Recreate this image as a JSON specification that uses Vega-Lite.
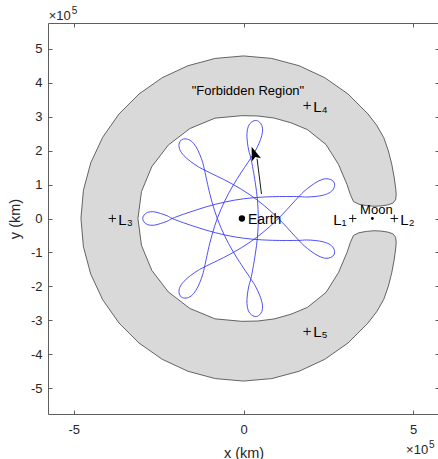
{
  "$schema": "https://vega.github.io/schema/vega-lite/v6.json",
  "width": 391,
  "height": 391,
  "autosize": {"type": "none"},
  "padding": {"left": 48, "top": 23, "right": 0, "bottom": 45},
  "background": "white",
  "config": {
    "view": {"stroke": null},
    "font": "Liberation Sans",
    "axis": {
      "grid": false,
      "domainColor": "#4d4d4d",
      "domainWidth": 0.9,
      "tickColor": "#4d4d4d",
      "tickSize": -4,
      "tickWidth": 0.9,
      "labelColor": "#262626",
      "labelFont": "Liberation Sans",
      "labelFontSize": 13,
      "titleFont": "Liberation Sans",
      "titleFontSize": 14.5,
      "titleFontWeight": "normal",
      "titleColor": "#262626"
    }
  },
  "datasets": {
    "region": [
      {"i":1,"x":4.50,"y":0.70},{"i":2,"x":4.486,"y":0.872},{"i":3,"x":4.443,"y":1.191},{"i":4,"x":4.370,"y":1.590},
      {"i":5,"x":4.269,"y":1.991},{"i":6,"x":4.131,"y":2.385},{"i":7,"x":3.924,"y":2.747},{"i":8,"x":3.669,"y":3.079},
      {"i":9,"x":3.079,"y":3.669},
      {"i":10,"x":2.395,"y":4.148},{"i":11,"x":1.638,"y":4.501},{"i":12,"x":0.832,"y":4.717},{"i":13,"x":0,"y":4.79},
      {"i":14,"x":-0.832,"y":4.717},{"i":15,"x":-1.638,"y":4.501},{"i":16,"x":-2.395,"y":4.148},{"i":17,"x":-3.079,"y":3.669},
      {"i":18,"x":-3.669,"y":3.079},{"i":19,"x":-4.148,"y":2.395},{"i":20,"x":-4.501,"y":1.638},{"i":21,"x":-4.717,"y":0.832},
      {"i":22,"x":-4.79,"y":0},{"i":23,"x":-4.717,"y":-0.832},{"i":24,"x":-4.501,"y":-1.638},{"i":25,"x":-4.148,"y":-2.395},
      {"i":26,"x":-3.669,"y":-3.079},{"i":27,"x":-3.079,"y":-3.669},{"i":28,"x":-2.395,"y":-4.148},{"i":29,"x":-1.638,"y":-4.501},
      {"i":30,"x":-0.832,"y":-4.717},{"i":31,"x":0,"y":-4.79},{"i":32,"x":0.832,"y":-4.717},{"i":33,"x":1.638,"y":-4.501},
      {"i":34,"x":2.395,"y":-4.148},{"i":35,"x":3.079,"y":-3.669},
      {"i":36,"x":3.669,"y":-3.079},{"i":37,"x":3.924,"y":-2.747},{"i":38,"x":4.131,"y":-2.385},{"i":39,"x":4.269,"y":-1.991},
      {"i":40,"x":4.370,"y":-1.590},{"i":41,"x":4.443,"y":-1.191},{"i":42,"x":4.486,"y":-0.872},{"i":43,"x":4.50,"y":-0.70},
      {"i":44,"x":4.48,"y":-0.55},{"i":45,"x":4.40,"y":-0.45},{"i":46,"x":4.25,"y":-0.40},
      {"i":47,"x":4.05,"y":-0.37},{"i":48,"x":3.85,"y":-0.36},{"i":49,"x":3.62,"y":-0.38},{"i":50,"x":3.40,"y":-0.42},
      {"i":51,"x":3.24,"y":-0.50},{"i":52,"x":3.15,"y":-0.70},{"i":53,"x":3.05,"y":-1.00},{"i":54,"x":2.80,"y":-1.59},
      {"i":55,"x":2.43,"y":-2.18},{"i":56,"x":1.88,"y":-2.62},{"i":57,"x":1.40,"y":-2.82},{"i":58,"x":0.90,"y":-2.96},
      {"i":59,"x":0.42,"y":-3.02},{"i":60,"x":-0.05,"y":-3.03},{"i":61,"x":-0.842,"y":-2.956},{"i":62,"x":-1.580,"y":-2.650},
      {"i":63,"x":-2.214,"y":-2.164},{"i":64,"x":-2.700,"y":-1.530},{"i":65,"x":-3.006,"y":-0.792},{"i":66,"x":-3.11,"y":0},
      {"i":67,"x":-3.006,"y":0.792},{"i":68,"x":-2.700,"y":1.530},{"i":69,"x":-2.214,"y":2.164},{"i":70,"x":-1.580,"y":2.650},
      {"i":71,"x":-0.842,"y":2.956},{"i":72,"x":-0.05,"y":3.03},{"i":73,"x":0.42,"y":3.02},{"i":74,"x":0.90,"y":2.96},
      {"i":75,"x":1.40,"y":2.82},{"i":76,"x":1.88,"y":2.62},{"i":77,"x":2.43,"y":2.18},{"i":78,"x":2.80,"y":1.59},
      {"i":79,"x":3.05,"y":1.00},{"i":80,"x":3.15,"y":0.70},{"i":81,"x":3.24,"y":0.50},{"i":82,"x":3.40,"y":0.42},
      {"i":83,"x":3.62,"y":0.38},{"i":84,"x":3.85,"y":0.36},{"i":85,"x":4.05,"y":0.37},{"i":86,"x":4.25,"y":0.40},
      {"i":87,"x":4.40,"y":0.45},{"i":88,"x":4.48,"y":0.55},{"i":89,"x":4.50,"y":0.70}
    ],
    "traj": [
      {"i":0,"x":0.216,"y":-1.780},{"i":1,"x":0.335,"y":-1.965},{"i":2,"x":0.451,"y":-2.200},{"i":3,"x":0.537,"y":-2.440},
      {"i":4,"x":0.560,"y":-2.659},{"i":5,"x":0.501,"y":-2.809},{"i":6,"x":0.382,"y":-2.888},{"i":7,"x":0.244,"y":-2.848},
      {"i":8,"x":0.144,"y":-2.721},{"i":9,"x":0.102,"y":-2.505},{"i":10,"x":0.114,"y":-2.250},{"i":11,"x":0.157,"y":-1.991},
      {"i":12,"x":0.216,"y":-1.780},
      {"i":13,"x":0.345,"y":-1.068},{"i":14,"x":0.412,"y":-0.534},{"i":15,"x":0.436,"y":0},{"i":16,"x":0.412,"y":0.534},{"i":17,"x":0.345,"y":1.068},
      {"i":18,"x":0.216,"y":1.780},{"i":19,"x":0.157,"y":1.991},{"i":20,"x":0.114,"y":2.250},{"i":21,"x":0.102,"y":2.505},
      {"i":22,"x":0.144,"y":2.721},{"i":23,"x":0.244,"y":2.848},{"i":24,"x":0.382,"y":2.888},{"i":25,"x":0.501,"y":2.809},
      {"i":26,"x":0.560,"y":2.659},{"i":27,"x":0.537,"y":2.440},{"i":28,"x":0.451,"y":2.200},{"i":29,"x":0.335,"y":1.965},
      {"i":30,"x":0.216,"y":1.780},
      {"i":31,"x":-0.176,"y":1.189},{"i":32,"x":-0.442,"y":0.734},{"i":33,"x":-0.668,"y":0.263},{"i":34,"x":-0.851,"y":-0.228},{"i":35,"x":-0.994,"y":-0.734},
      {"i":36,"x":-1.148,"y":-1.426},{"i":37,"x":-1.199,"y":-1.640},{"i":38,"x":-1.288,"y":-1.886},{"i":39,"x":-1.401,"y":-2.115},
      {"i":40,"x":-1.543,"y":-2.283},{"i":41,"x":-1.692,"y":-2.345},{"i":42,"x":-1.832,"y":-2.314},{"i":43,"x":-1.898,"y":-2.187},
      {"i":44,"x":-1.876,"y":-2.027},{"i":45,"x":-1.750,"y":-1.847},{"i":46,"x":-1.557,"y":-1.679},{"i":47,"x":-1.342,"y":-1.530},
      {"i":48,"x":-1.148,"y":-1.426},
      {"i":49,"x":-0.516,"y":-1.115},{"i":50,"x":-0.059,"y":-0.859},{"i":51,"x":0.373,"y":-0.567},{"i":52,"x":0.775,"y":-0.237},{"i":53,"x":1.152,"y":0.127},
      {"i":54,"x":1.630,"y":0.645},{"i":55,"x":1.785,"y":0.801},{"i":56,"x":1.990,"y":0.965},{"i":57,"x":2.205,"y":1.101},
      {"i":58,"x":2.414,"y":1.171},{"i":59,"x":2.574,"y":1.146},{"i":60,"x":2.676,"y":1.047},{"i":61,"x":2.667,"y":0.904},
      {"i":62,"x":2.565,"y":0.779},{"i":63,"x":2.363,"y":0.691},{"i":64,"x":2.112,"y":0.648},{"i":65,"x":1.850,"y":0.633},
      {"i":66,"x":1.630,"y":0.645},
      {"i":67,"x":0.861,"y":0.643},{"i":68,"x":0.289,"y":0.612},{"i":69,"x":-0.275,"y":0.539},{"i":70,"x":-0.830,"y":0.418},{"i":71,"x":-1.378,"y":0.256},
      {"i":72,"x":-2.10,"y":0},{"i":73,"x":-2.25,"y":-0.08},{"i":74,"x":-2.45,"y":-0.15},{"i":75,"x":-2.65,"y":-0.20},
      {"i":76,"x":-2.83,"y":-0.18},{"i":77,"x":-2.93,"y":-0.10},{"i":78,"x":-2.97,"y":0},{"i":79,"x":-2.93,"y":0.10},
      {"i":80,"x":-2.83,"y":0.18},{"i":81,"x":-2.65,"y":0.20},{"i":82,"x":-2.45,"y":0.15},{"i":83,"x":-2.25,"y":0.08},
      {"i":84,"x":-2.10,"y":0},
      {"i":85,"x":-1.378,"y":-0.256},{"i":86,"x":-0.830,"y":-0.418},{"i":87,"x":-0.275,"y":-0.539},{"i":88,"x":0.289,"y":-0.612},{"i":89,"x":0.861,"y":-0.643},
      {"i":90,"x":1.630,"y":-0.645},{"i":91,"x":1.850,"y":-0.633},{"i":92,"x":2.112,"y":-0.648},{"i":93,"x":2.363,"y":-0.691},
      {"i":94,"x":2.565,"y":-0.779},{"i":95,"x":2.667,"y":-0.904},{"i":96,"x":2.676,"y":-1.047},{"i":97,"x":2.574,"y":-1.146},
      {"i":98,"x":2.414,"y":-1.171},{"i":99,"x":2.205,"y":-1.101},{"i":100,"x":1.990,"y":-0.965},{"i":101,"x":1.785,"y":-0.801},
      {"i":102,"x":1.630,"y":-0.645},
      {"i":103,"x":1.152,"y":-0.127},{"i":104,"x":0.775,"y":0.237},{"i":105,"x":0.373,"y":0.567},{"i":106,"x":-0.059,"y":0.859},{"i":107,"x":-0.516,"y":1.115},
      {"i":108,"x":-1.148,"y":1.426},{"i":109,"x":-1.342,"y":1.530},{"i":110,"x":-1.557,"y":1.679},{"i":111,"x":-1.750,"y":1.847},
      {"i":112,"x":-1.876,"y":2.027},{"i":113,"x":-1.898,"y":2.187},{"i":114,"x":-1.832,"y":2.314},{"i":115,"x":-1.692,"y":2.345},
      {"i":116,"x":-1.543,"y":2.283},{"i":117,"x":-1.401,"y":2.115},{"i":118,"x":-1.288,"y":1.886},{"i":119,"x":-1.199,"y":1.640},
      {"i":120,"x":-1.148,"y":1.426},
      {"i":121,"x":-0.994,"y":0.734},{"i":122,"x":-0.851,"y":0.228},{"i":123,"x":-0.668,"y":-0.263},{"i":124,"x":-0.442,"y":-0.734},{"i":125,"x":-0.176,"y":-1.189},
      {"i":126,"x":0.216,"y":-1.780}
    ],
    "lpoints": [
      {"x":3.217,"y":0,"label":"L₁"},
      {"x":4.443,"y":0,"label":"L₂"},
      {"x":-3.864,"y":0,"label":"L₃"},
      {"x":1.875,"y":3.329,"label":"L₄"},
      {"x":1.875,"y":-3.329,"label":"L₅"}
    ],
    "exps": [
      {"x":-5.74,"y":5.85},
      {"x":4.79,"y":-6.95}
    ]
  },
  "resolve": {"axis": {"x": "independent", "y": "independent"}},
  "layer": [
    {
      "encoding": {
        "x": {"field": "x", "type": "quantitative",
              "scale": {"domain": [-5.76, 5.76], "nice": false, "zero": false},
              "axis": {"values": [-5, 0, 5], "title": "x (km)", "labelPadding": 13, "titlePadding": 10, "labelExpr": "'' + datum.value"}},
        "y": {"field": "y", "type": "quantitative",
              "scale": {"domain": [-5.76, 5.76], "nice": false, "zero": false},
              "axis": {"values": [-5, -4, -3, -2, -1, 0, 1, 2, 3, 4, 5], "title": "y (km)", "labelPadding": 10, "titlePadding": 8, "labelExpr": "'' + datum.value"}}
      },
      "layer": [
        {"data": {"name": "region"},
         "mark": {"type": "line", "fill": "#d9d9d9", "stroke": "#404040", "strokeWidth": 0.8},
         "encoding": {"order": {"field": "i", "type": "quantitative"}}},
        {"data": {"name": "traj"},
         "mark": {"type": "line", "stroke": "#3030f5", "strokeWidth": 0.85, "interpolate": "catmull-rom"},
         "encoding": {"order": {"field": "i", "type": "quantitative"}}},
        {"data": {"values": [{"x": 0.53, "y": 0.72, "x2": 0.40, "y2": 1.76}]},
         "mark": {"type": "rule", "color": "#1a1a1a", "strokeWidth": 1},
         "encoding": {"x2": {"field": "x2"}, "y2": {"field": "y2"}}},
        {"data": {"values": [{"x": 0.31, "y": 1.92}]},
         "mark": {"type": "point", "shape": "M0,-1L0.7,1L0,0.55L-0.7,1Z", "filled": true, "color": "#000000", "opacity": 1, "size": 196, "angle": 340}},
        {"data": {"name": "lpoints"},
         "mark": {"type": "point", "shape": "M-1,0L1,0M0,-1L0,1", "filled": false, "stroke": "#000000", "strokeWidth": 0.9, "opacity": 1, "size": 56}},
        {"data": {"values": [{"x": -0.047, "y": 0}]},
         "mark": {"type": "point", "shape": "circle", "filled": true, "color": "#000000", "opacity": 1, "size": 40}},
        {"data": {"values": [{"x": 3.797, "y": 0}]},
         "mark": {"type": "point", "shape": "circle", "filled": true, "color": "#000000", "opacity": 1, "size": 8}},
        {"data": {"name": "lpoints"},
         "transform": [{"filter": "datum.label != 'L₁'"}],
         "mark": {"type": "text", "align": "left", "baseline": "middle", "dx": 6, "dy": 1, "fontSize": 15, "font": "Liberation Sans", "color": "#000000"},
         "encoding": {"text": {"field": "label"}}},
        {"data": {"name": "lpoints"},
         "transform": [{"filter": "datum.label == 'L₁'"}],
         "mark": {"type": "text", "align": "right", "baseline": "middle", "dx": -6, "dy": 1, "fontSize": 15, "font": "Liberation Sans", "color": "#000000"},
         "encoding": {"text": {"field": "label"}}},
        {"data": {"values": [{"x": 3.797, "y": 0, "label": "Moon"}]},
         "mark": {"type": "text", "align": "center", "baseline": "alphabetic", "dx": 4, "dy": -5, "fontSize": 13, "font": "Liberation Sans", "color": "#000000"},
         "encoding": {"text": {"field": "label"}}},
        {"data": {"values": [{"x": -0.047, "y": 0, "label": "Earth"}]},
         "mark": {"type": "text", "align": "left", "baseline": "middle", "dx": 6, "dy": 1, "fontSize": 14, "font": "Liberation Sans", "color": "#000000"},
         "encoding": {"text": {"field": "label"}}},
        {"data": {"values": [{"x": 0.13, "y": 3.75, "label": "\"Forbidden Region\""}]},
         "mark": {"type": "text", "align": "center", "baseline": "middle", "fontSize": 13, "font": "Liberation Sans", "color": "#000000"},
         "encoding": {"text": {"field": "label"}}},
        {"data": {"name": "exps"},
         "mark": {"type": "text", "align": "left", "baseline": "alphabetic", "fontSize": 13, "font": "Liberation Sans", "color": "#262626"},
         "encoding": {"text": {"value": "×10"}}},
        {"data": {"name": "exps"},
         "mark": {"type": "text", "align": "left", "baseline": "alphabetic", "dx": 23, "dy": -6, "fontSize": 10, "font": "Liberation Sans", "color": "#262626"},
         "encoding": {"text": {"value": "5"}}}
      ]
    },
    {
      "data": {"values": [{"x": 0, "y": 0}]},
      "mark": {"type": "point", "opacity": 0},
      "encoding": {
        "x": {"field": "x", "type": "quantitative",
              "scale": {"domain": [-5.76, 5.76], "nice": false, "zero": false},
              "axis": {"orient": "top", "values": [-5, 0, 5], "labels": false, "title": null}},
        "y": {"field": "y", "type": "quantitative",
              "scale": {"domain": [-5.76, 5.76], "nice": false, "zero": false},
              "axis": {"orient": "right", "values": [-5, -4, -3, -2, -1, 0, 1, 2, 3, 4, 5], "labels": false, "title": null}}
      }
    }
  ]
}
